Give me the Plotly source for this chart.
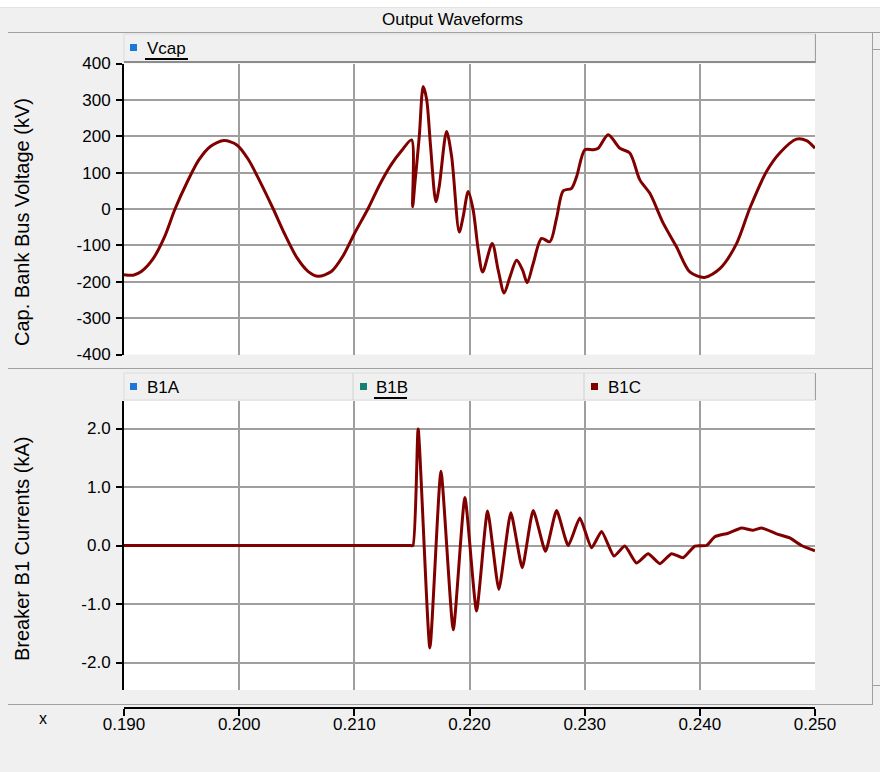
import plotly.graph_objects as go

# ---------------- data ----------------
t_vcap = [0.19000, 0.19080, 0.19150, 0.19250, 0.19350, 0.19443, 0.19550, 0.19650,
          0.19750, 0.19868, 0.19980, 0.20080, 0.20180, 0.20296, 0.20400, 0.20500,
          0.20600, 0.20687, 0.20800, 0.20900, 0.21000, 0.21121, 0.21222, 0.21320,
          0.21410, 0.21497, 0.21506, 0.21526, 0.21564, 0.21598,
          0.21628, 0.21662, 0.21708, 0.21737, 0.21801, 0.21845, 0.21911, 0.21945,
          0.21989, 0.22032, 0.22076, 0.22114, 0.22197, 0.22249, 0.22301, 0.22351,
          0.22409, 0.22461, 0.22501, 0.22553, 0.22626, 0.22698, 0.22756, 0.22814,
          0.22886, 0.22930, 0.23002, 0.23074, 0.23118, 0.23204, 0.23306, 0.23392,
          0.23479, 0.23566, 0.23682, 0.23797, 0.23913, 0.24040, 0.24174, 0.24319,
          0.24434, 0.24579, 0.24694, 0.24839, 0.24926, 0.25000]
vcap_kv = [-181, -182, -172, -138, -78, 0, 75, 135,
           172, 188, 176, 136, 76, 0, -72, -133,
           -172, -185, -172, -130, -68, 2, 68, 122,
           160, 190, 6, 71, 200, 337,
           301, 172, 20, 62, 213, 144, -63, -21,
           48, -3, -113, -173, -95, -168, -231, -187,
           -141, -168, -203, -150, -81, -90, -25, 50,
           57, 89, 163, 163, 167, 204, 167, 154,
           80, 43, -39, -104, -173, -188, -164, -95,
           2, 103, 154, 192, 188, 167]

t_b1 = [0.19000, 0.20500, 0.21400, 0.21480, 0.21509, 0.21554, 0.21656, 0.21752,
        0.21859, 0.21960, 0.22061, 0.22157, 0.22255, 0.22359, 0.22458, 0.22553,
        0.22660, 0.22756, 0.22857, 0.22958, 0.23060, 0.23147, 0.23255, 0.23349,
        0.23450, 0.23551, 0.23653, 0.23754, 0.23855, 0.23957, 0.24058, 0.24130,
        0.24246, 0.24362, 0.24463, 0.24536, 0.24666, 0.24781, 0.24883, 0.25000]
b1c_ka = [0.0, 0.0, 0.0, 0.0, 0.0, 1.99, -1.75, 1.27,
          -1.44, 0.82, -1.12, 0.59, -0.75, 0.56, -0.38, 0.60,
          -0.10, 0.60, 0.00, 0.47, -0.04, 0.24, -0.18, -0.01,
          -0.30, -0.14, -0.31, -0.14, -0.21, -0.01, 0.00, 0.15,
          0.21, 0.30, 0.26, 0.30, 0.20, 0.13, 0.00, -0.09]

x_ticks = [0.19, 0.20, 0.21, 0.22, 0.23, 0.24, 0.25]
x_tick_labels = ["0.190", "0.200", "0.210", "0.220", "0.230", "0.240", "0.250"]
x_grid = [0.20, 0.21, 0.22, 0.23, 0.24]
v_ticks = [-400, -300, -200, -100, 0, 100, 200, 300, 400]
v_tick_labels = ["-400", "-300", "-200", "-100", "0", "100", "200", "300", "400"]
i_ticks = [-2.0, -1.0, 0.0, 1.0, 2.0]
i_tick_labels = ["-2.0", "-1.0", "0.0", "1.0", "2.0"]

top_series = ["Vcap"]
bottom_series = ["B1A", "B1B", "B1C"]
series_colors = {"Vcap": "#1c78d8", "B1A": "#1c78d8", "B1B": "#138272", "B1C": "#800000"}
line_color = "#800000"

# ---------------- geometry helpers (pixels -> paper) ----------------
W, H = 880, 772
def X(px):
    return px / W
def Y(py):
    return 1 - py / H

FONT = "Liberation Sans, Arial, sans-serif"
GRID = "#a19f9d"

fig = go.Figure()
fig.add_trace(go.Scatter(x=t_vcap, y=vcap_kv, mode="lines", name="Vcap",
                         line=dict(color=line_color, width=3, shape="spline", smoothing=0.8),
                         xaxis="x", yaxis="y"))
fig.add_trace(go.Scatter(x=t_b1, y=b1c_ka, mode="lines", name="B1C",
                         line=dict(color=line_color, width=3, shape="spline", smoothing=0.5),
                         xaxis="x2", yaxis="y2"))

xdom = [X(124), X(815)]
grid_minor = dict(tickmode="array", tickvals=x_grid, showgrid=True, gridcolor=GRID,
                  gridwidth=2, ticks="")
common_x = dict(range=[0.19, 0.25], tickvals=x_ticks, showgrid=False, minor=grid_minor,
                zeroline=False, domain=xdom, automargin=False)
fig.update_layout(
    width=W, height=H, autosize=False,
    margin=dict(l=0, r=0, t=0, b=0, pad=0, autoexpand=False),
    paper_bgcolor="#f0f0f0", plot_bgcolor="white", showlegend=False,
    font=dict(family=FONT, size=17, color="black"),
    xaxis=dict(**common_x, anchor="y", showticklabels=False, ticks="", showline=False),
    yaxis=dict(domain=[Y(354.5), Y(63.5)], range=[-400, 400], tickvals=v_ticks,
               ticktext=v_tick_labels, ticks="outside", ticklen=6, tickwidth=2,
               tickcolor="black", showline=True, linecolor="black", linewidth=2,
               showgrid=True, gridcolor=GRID, gridwidth=2, zeroline=False,
               ticklabelstandoff=2, anchor="x", automargin=False),
    xaxis2=dict(**common_x, anchor="free", position=Y(707.5), ticktext=x_tick_labels,
                ticks="outside", ticklen=7, tickwidth=2, tickcolor="black",
                showline=True, linecolor="black", linewidth=2, ticklabelstandoff=-6),
    yaxis2=dict(domain=[Y(690), Y(401)], range=[-2.47, 2.47], tickvals=i_ticks,
                ticktext=i_tick_labels, ticks="outside", ticklen=6, tickwidth=2,
                tickcolor="black", showline=True, linecolor="black", linewidth=2,
                showgrid=True, gridcolor=GRID, gridwidth=2, zeroline=False,
                ticklabelstandoff=2, anchor="x2", automargin=False),
)

shapes = []
def hline(y, x0, x1, color="#a0a0a0", w=1):
    shapes.append(dict(type="line", xref="paper", yref="paper", x0=X(x0), x1=X(x1),
                       y0=Y(y), y1=Y(y), line=dict(color=color, width=w)))
def vline(x, y0, y1, color="#a0a0a0", w=1):
    shapes.append(dict(type="line", xref="paper", yref="paper", x0=X(x), x1=X(x),
                       y0=Y(y0), y1=Y(y1), line=dict(color=color, width=w)))
def rect(x0, y0, x1, y1, fill, line=None, w=0):
    shapes.append(dict(type="rect", xref="paper", yref="paper", x0=X(x0), x1=X(x1),
                       y0=Y(y1), y1=Y(y0), fillcolor=fill,
                       line=dict(color=line or fill, width=w)))

# top white strip and title bar
rect(0, 0, 880, 7, "white")
hline(7.5, 0, 880, "#e2e2e2")
hline(32.5, 8, 880, "#a0a0a0")
# panel frames
hline(368.5, 8, 873, "#a0a0a0")
hline(704.5, 8, 873, "#a0a0a0")
vline(872.5, 33, 705, "#a0a0a0")
hline(49.5, 873, 880, "#a0a0a0")
hline(685.5, 873, 880, "#a0a0a0")

# legend bars
rect(124, 34, 815, 62, "#f0f0f0", "#dcdcdc", 1)
hline(62, 124, 816, "#8c8c8c", 2)
vline(815.5, 34, 63, "#a0a0a0")
rect(124, 373, 815, 400, "#f0f0f0", "#dcdcdc", 1)
vline(353, 373, 400, "#d0d0d0")
vline(584, 373, 400, "#d0d0d0")
vline(815.5, 373, 400, "#a0a0a0")

annotations = [dict(text="Output Waveforms", x=X(452), y=Y(20), xref="paper", yref="paper",
                    showarrow=False, font=dict(size=17), xanchor="center", yanchor="middle")]

def legend_item(name, sx, tx, ty, underline_to=None):
    rect(sx, ty - 4, sx + 7, ty + 3, series_colors[name])
    annotations.append(dict(text=name, x=X(tx), y=Y(ty), xref="paper", yref="paper",
                            showarrow=False, xanchor="left", yanchor="middle",
                            font=dict(size=17)))
    if underline_to:
        hline(ty + 11, tx, underline_to, "black", 2)

legend_item(top_series[0], 130, 145, 48, underline_to=188)
legend_item(bottom_series[0], 130, 145, 387)
legend_item(bottom_series[1], 360, 374, 387, underline_to=407)
legend_item(bottom_series[2], 591, 606, 387)

annotations.append(dict(text="Cap. Bank Bus Voltage (kV)", x=X(22), y=Y(222), xref="paper",
                        yref="paper", showarrow=False, textangle=-90, font=dict(size=20),
                        xanchor="center", yanchor="middle"))
annotations.append(dict(text="Breaker B1 Currents (kA)", x=X(22), y=Y(549), xref="paper",
                        yref="paper", showarrow=False, textangle=-90, font=dict(size=20),
                        xanchor="center", yanchor="middle"))
annotations.append(dict(text="x", x=X(43), y=Y(718), xref="paper", yref="paper",
                        showarrow=False, font=dict(size=16), xanchor="center", yanchor="middle"))

fig.update_layout(shapes=shapes, annotations=annotations)
fig.write_html("out.html")
